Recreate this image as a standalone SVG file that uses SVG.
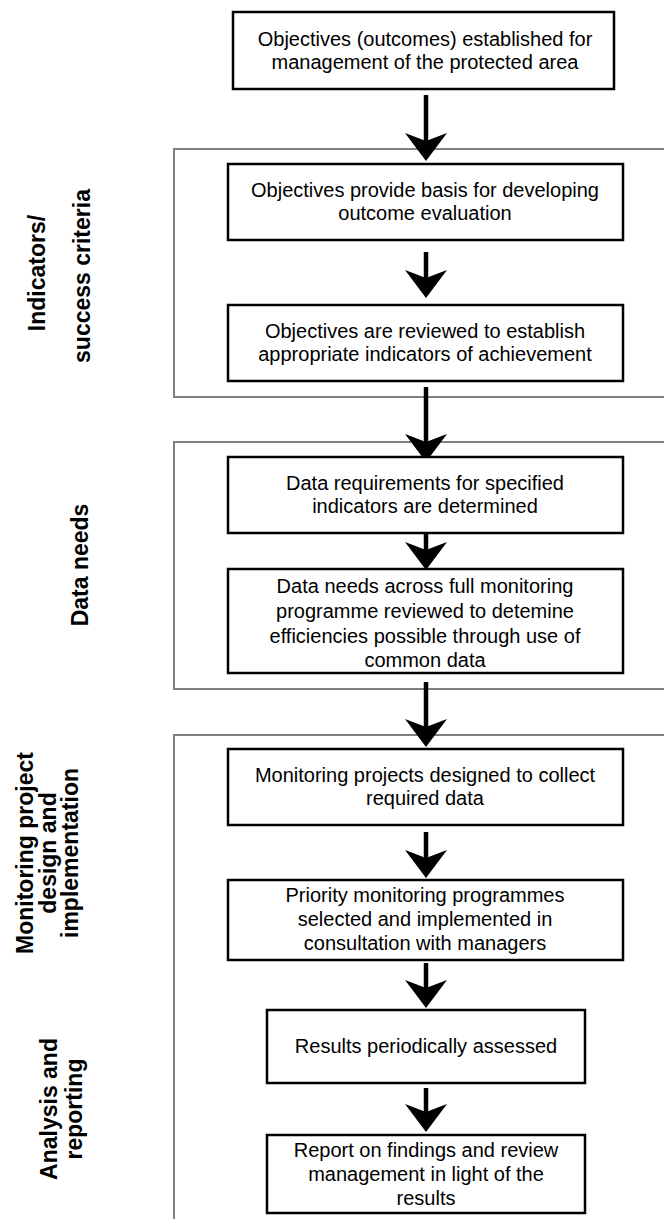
<svg xmlns="http://www.w3.org/2000/svg" width="664" height="1222" viewBox="0 0 664 1222">
<style>
.frame{fill:none;stroke:#808080;stroke-width:2}
.box{fill:#fff;stroke:#000;stroke-width:2.5}
.t{font-family:"Liberation Sans",Arial,sans-serif;font-size:20px;fill:#000;text-anchor:middle}
.lab{font-family:"Liberation Sans",Arial,sans-serif;font-size:23px;font-weight:bold;fill:#000;text-anchor:middle}
.conn{stroke:#000;stroke-width:4.5;fill:none}
</style>
<defs>
<marker id="ah" markerUnits="userSpaceOnUse" markerWidth="30" markerHeight="44" viewBox="0 -22 30 44" refX="8" refY="0" orient="auto">
<path d="M0,-21 L28,0 L0,21 L8,0 Z" fill="#000"/>
</marker>
</defs>
<rect width="664" height="1222" fill="#fff"/>
<g id="frames">
<rect id="frame-indicators" class="frame" x="174" y="149" width="520" height="248"/>
<rect id="frame-data" class="frame" x="174" y="442" width="520" height="247"/>
<path id="frame-monitoring" class="frame" d="M700,735 H174 V1219"/>
</g>
<g id="labels">
<text class="lab" transform="translate(44.5,273) rotate(-90)">Indicators/</text>
<text class="lab" transform="translate(90,276) rotate(-90)">success criteria</text>
<text class="lab" transform="translate(88,565) rotate(-90)">Data needs</text>
<text class="lab" transform="translate(33,853) rotate(-90)">Monitoring project</text>
<text class="lab" transform="translate(55.5,853) rotate(-90)">design and</text>
<text class="lab" transform="translate(78,853) rotate(-90)">implementation</text>
<text class="lab" transform="translate(57,1109) rotate(-90)">Analysis and</text>
<text class="lab" transform="translate(82,1109) rotate(-90)">reporting</text>
</g>
<g id="connectors">
<line class="conn" x1="426" y1="95" x2="426" y2="141" marker-end="url(#ah)"/>
<line class="conn" x1="426" y1="252" x2="426" y2="278" marker-end="url(#ah)"/>
<line class="conn" x1="426" y1="387" x2="426" y2="442" marker-end="url(#ah)"/>
<line class="conn" x1="426" y1="530" x2="426" y2="550" marker-end="url(#ah)"/>
<line class="conn" x1="426" y1="682" x2="426" y2="727" marker-end="url(#ah)"/>
<line class="conn" x1="426" y1="832" x2="426" y2="858" marker-end="url(#ah)"/>
<line class="conn" x1="426" y1="963" x2="426" y2="988" marker-end="url(#ah)"/>
<line class="conn" x1="426" y1="1088" x2="426" y2="1112" marker-end="url(#ah)"/>
</g>
<g id="n1">
<rect class="box" x="233" y="12" width="381" height="77"/>
<text class="t" x="425" y="46">Objectives (outcomes) established for</text>
<text class="t" x="425" y="69">management of the protected area</text>
</g>
<g id="n2">
<rect class="box" x="228" y="164" width="395" height="76"/>
<text class="t" x="425" y="197">Objectives provide basis for developing</text>
<text class="t" x="425" y="220">outcome evaluation</text>
</g>
<g id="n3">
<rect class="box" x="228" y="305" width="395" height="76"/>
<text class="t" x="425" y="338">Objectives are reviewed to establish</text>
<text class="t" x="425" y="361">appropriate indicators of achievement</text>
</g>
<g id="n4">
<rect class="box" x="228" y="457" width="395" height="76"/>
<text class="t" x="425" y="490">Data requirements for specified</text>
<text class="t" x="425" y="513">indicators are determined</text>
</g>
<g id="n5">
<rect class="box" x="228" y="569" width="395" height="104"/>
<text class="t" x="425" y="593">Data needs across full monitoring</text>
<text class="t" x="425" y="618">programme reviewed to detemine</text>
<text class="t" x="425" y="643">efficiencies possible through use of</text>
<text class="t" x="425" y="667">common data</text>
</g>
<g id="n6">
<rect class="box" x="228" y="749" width="395" height="76"/>
<text class="t" x="425" y="782">Monitoring projects designed to collect</text>
<text class="t" x="425" y="805">required data</text>
</g>
<g id="n7">
<rect class="box" x="228" y="880" width="395" height="80"/>
<text class="t" x="425" y="902">Priority monitoring programmes</text>
<text class="t" x="425" y="926">selected and implemented in</text>
<text class="t" x="425" y="950">consultation with managers</text>
</g>
<g id="n8">
<rect class="box" x="267" y="1010" width="318" height="73"/>
<text class="t" x="426" y="1053">Results periodically assessed</text>
</g>
<g id="n9">
<rect class="box" x="267" y="1135" width="318" height="78"/>
<text class="t" x="426" y="1157">Report on findings and review</text>
<text class="t" x="426" y="1181">management in light of the</text>
<text class="t" x="426" y="1205">results</text>
</g>
</svg>
